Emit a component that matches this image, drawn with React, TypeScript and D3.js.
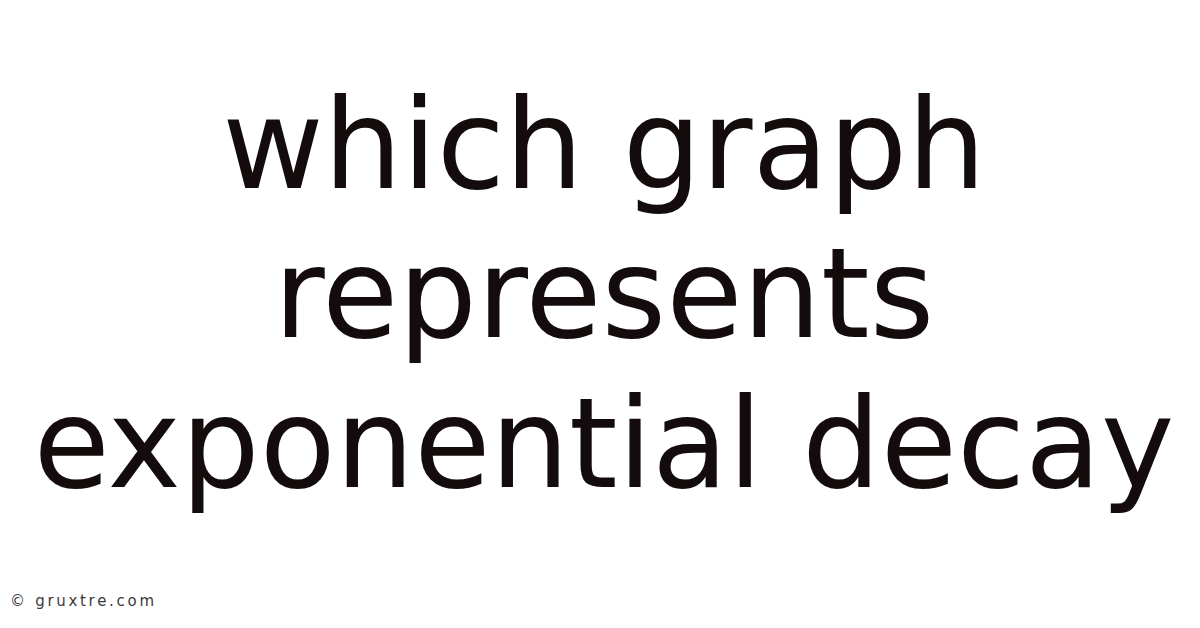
import { scaleBand } from 'd3'

const titleLines = ['which graph', 'represents', 'exponential decay']
const watermark = '© gruxtre.com'

const width = 1200
const height = 628

export default function App() {
  // one band per text line, baselines sit near the bottom of each band
  const yScale = scaleBand<string>()
    .domain(titleLines)
    .range([39, 488])
    .paddingInner(0)

  return (
    <svg
      width={width}
      height={height}
      viewBox={`0 0 ${width} ${height}`}
      style={{ position: 'absolute', left: 0, top: 0, background: '#fff' }}
      role="img"
      aria-label={titleLines.join(' ')}
    >
      <rect width={width} height={height} fill="#fff" />
      {titleLines.map((line) => (
        <text
          key={line}
          x={width / 2 + 4}
          y={(yScale(line) ?? 0) + yScale.bandwidth() - 1}
          textAnchor="middle"
          fontFamily="'DejaVu Sans', sans-serif"
          fontSize={124}
          fill="#140c0c"
        >
          {line}
        </text>
      ))}
      <text
        x={10}
        y={606}
        fontFamily="'DejaVu Sans', sans-serif"
        fontSize={15}
        letterSpacing={2.7}
        fill="#3a3a3a"
      >
        {watermark}
      </text>
    </svg>
  )
}
